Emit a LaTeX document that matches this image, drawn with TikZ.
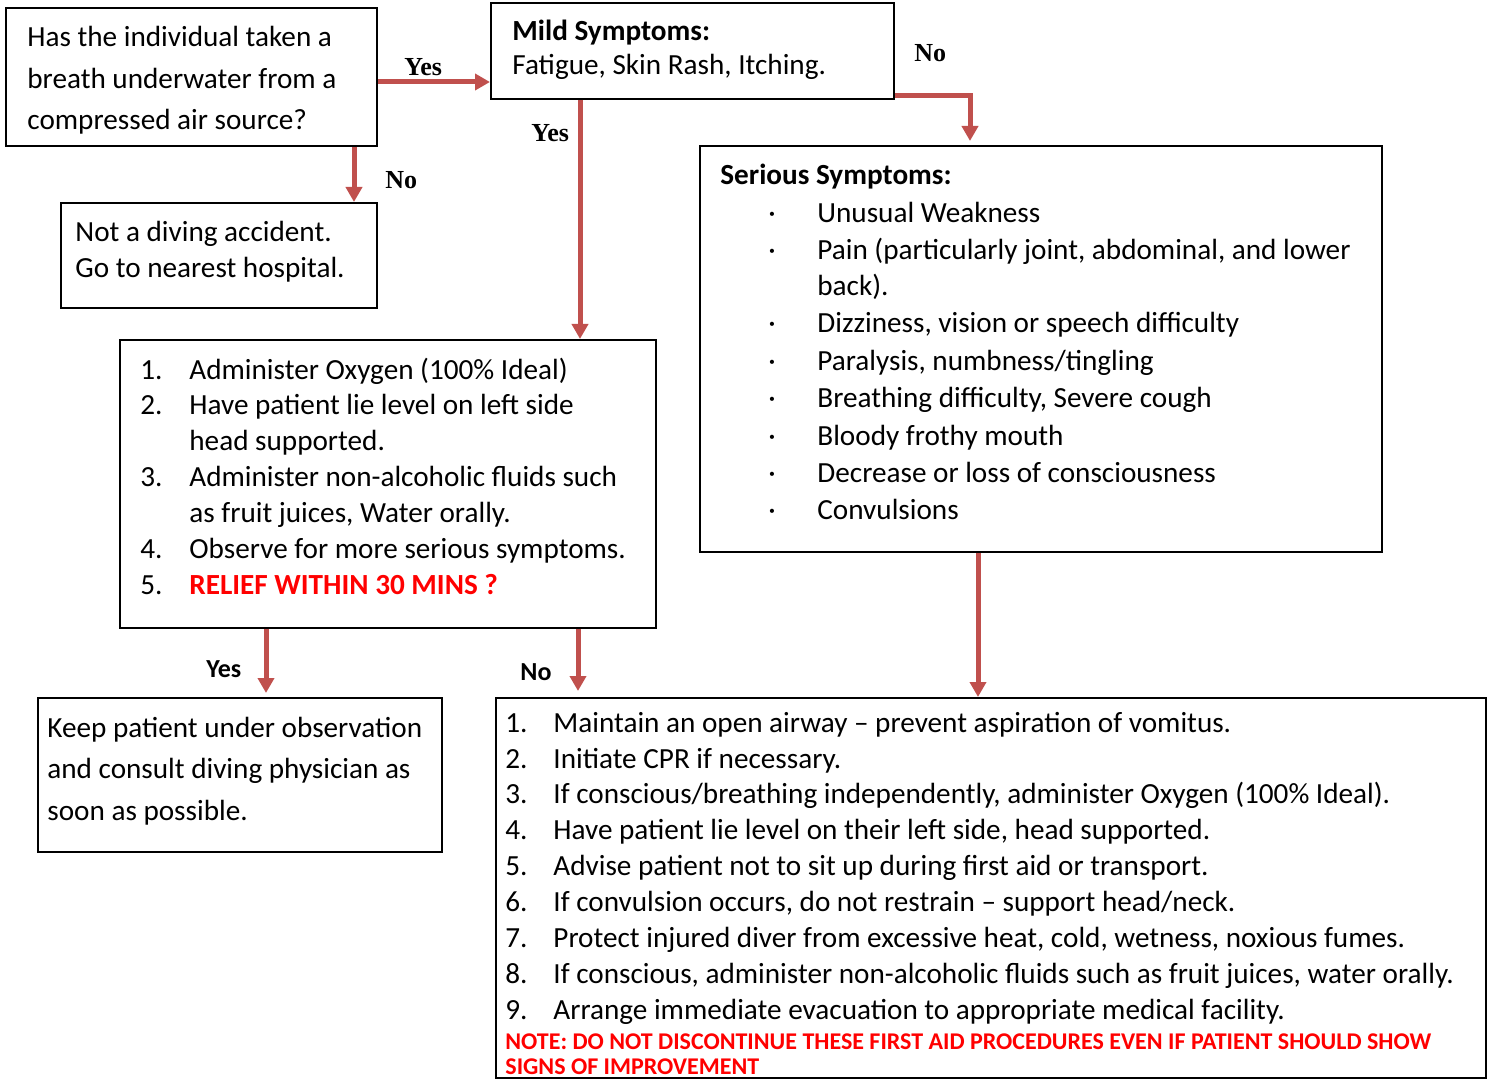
\documentclass[tikz,border=0pt]{standalone}
\usepackage{fontspec}
\setmainfont{Carlito}
\newfontfamily\serifbf{Liberation Serif}
\usetikzlibrary{arrows.meta,fit,calc}
\definecolor{arr}{HTML}{C0504D}
\definecolor{alertred}{HTML}{FF0000}
\begin{document}
\begin{tikzpicture}[x=0.5pt,y=-0.5pt,
 box/.style={draw=black, line width=1pt, inner sep=0pt, rectangle},
 txt/.style={anchor=base west, inner sep=0pt, yshift=-0.5pt, font=\fontsize{14.6}{17}\selectfont},
 lbl/.style={anchor=base west, inner sep=0pt, font=\fontsize{13}{15}\selectfont\bfseries},
 slbl/.style={anchor=base west, inner sep=0pt, font=\fontsize{13}{15}\selectfont\serifbf\bfseries},
 note/.style={anchor=base west, inner sep=0pt, text=alertred, font=\fontsize{12}{14}\selectfont\bfseries},
 flow/.style={draw=arr, line width=2.5pt, -{Triangle[width=8pt,length=7.5pt]}}]
\useasboundingbox (0,0) rectangle (1495,1080);
% boxes
\node[box, fit={(6,8) (377,146)}] (A) {};
\node[box, fit={(491,3) (894,99)}] (mild) {};
\node[box, fit={(61,203) (377,308)}] (nd) {};
\node[box, fit={(120,340) (656,628)}] (treat) {};
\node[box, fit={(700,146) (1382,552)}] (ser) {};
\node[box, fit={(38,698) (442,852)}] (keep) {};
\node[box, fit={(496,698) (1486,1078)}] (final) {};
% box A
\node[txt] (a1) at (27,46) {Has the individual taken a};
\node[txt] (a2) at (27,88) {breath underwater from a};
\node[txt] (a3) at (27,129) {compressed air source?};
% mild
\node[txt, font=\fontsize{14.6}{17}\selectfont\bfseries] (m1) at (512,40) {Mild Symptoms:};
\node[txt] (m2) at (512,74) {Fatigue, Skin Rash, Itching.};
% not diving
\node[txt] (n1) at (75,241) {Not a diving accident.};
\node[txt] (n2) at (75,277) {Go to nearest hospital.};
% treat
\node[txt] (tn1) at (140,379) {1.};
\node[txt] (tt1) at (189,379) {Administer Oxygen (100\% Ideal)};
\node[txt] (tn2) at (140,414) {2.};
\node[txt] (tt2) at (189,414) {Have patient lie level on left side};
\node[txt] (tt2b) at (189,450) {head supported.};
\node[txt] (tn3) at (140,486) {3.};
\node[txt] (tt3) at (189,486) {Administer non-alcoholic fluids such};
\node[txt] (tt3b) at (189,522) {as fruit juices, Water orally.};
\node[txt] (tn4) at (140,558) {4.};
\node[txt] (tt4) at (189,558) {Observe for more serious symptoms.};
\node[txt] (tn5) at (140,594) {5.};
\node[txt, text=alertred, font=\fontsize{14.6}{17}\selectfont\bfseries] (tt5) at (189,594) {RELIEF WITHIN 30 MINS ?};
% serious
\node[txt, font=\fontsize{14.6}{17}\selectfont\bfseries] (s0) at (720,184) {Serious Symptoms:};
\foreach \y/\t [count=\i] in {222/{Unusual Weakness}, 259/{Pain (particularly joint, abdominal, and lower}, 332/{Dizziness, vision or speech difficulty}, 370/{Paralysis, numbness/tingling}, 407/{Breathing difficulty, Severe cough}, 445/{Bloody frothy mouth}, 482/{Decrease or loss of consciousness}, 519/{Convulsions}} {
  \node[txt] (sb\i) at (768,\y) {·};
  \node[txt] (st\i) at (817,\y) {\t};
}
\node[txt] (st2b) at (817,295) {back).};
% keep
\node[txt] (k1) at (47,736) {Keep patient under observation};
\node[txt] (k2) at (47,777) {and consult diving physician as};
\node[txt] (k3) at (47,819) {soon as possible.};
% final
\foreach \y/\t [count=\i] in {731/{Maintain an open airway – prevent aspiration of vomitus.}, 767/{Initiate CPR if necessary.}, 802/{If conscious/breathing independently, administer Oxygen (100\% Ideal).}, 838/{Have patient lie level on their left side, head supported.}, 874/{Advise patient not to sit up during first aid or transport.}, 910/{If convulsion occurs, do not restrain – support head/neck.}, 946/{Protect injured diver from excessive heat, cold, wetness, noxious fumes.}, 982/{If conscious, administer non-alcoholic fluids such as fruit juices, water orally.}, 1018/{Arrange immediate evacuation to appropriate medical facility.}} {
  \node[txt] (fn\i) at (505,\y) {\i.};
  \node[txt] (ft\i) at (553,\y) {\t};
}
\node[note] (note1) at (505,1049) {NOTE: DO NOT DISCONTINUE THESE FIRST AID PROCEDURES EVEN IF PATIENT SHOULD SHOW};
\node[note] (note2) at (505,1074) {SIGNS OF IMPROVEMENT};
% connectors
\draw[flow] (A.east |- 0,82) -- (mild.west |- 0,82);
\draw[flow] (354,0 |- A.south) -- (354,0 |- nd.north);
\draw[flow] (580,0 |- mild.south) -- (580,0 |- treat.north);
\draw[flow] (mild.east |- 0,96) -| ($(970,0 |- ser.north)+(0,-4)$);
\draw[flow] (266,0 |- treat.south) -- ($(266,0 |- keep.north)+(0,-4)$);
\draw[flow] (578,0 |- treat.south) -- ($(578,0 |- final.north)+(0,-6)$);
\draw[flow] (978,0 |- ser.south) -- (978,0 |- final.north);
% labels
\node[slbl] (y1) at (404,76) {Yes};
\node[slbl] (no1) at (385,189) {No};
\node[slbl] (y2) at (531,142) {Yes};
\node[slbl] (no2) at (914,62) {No};
\node[lbl] (y3) at (206,677) {Yes};
\node[lbl] (no3) at (520,680) {No};
\end{tikzpicture}
\end{document}
